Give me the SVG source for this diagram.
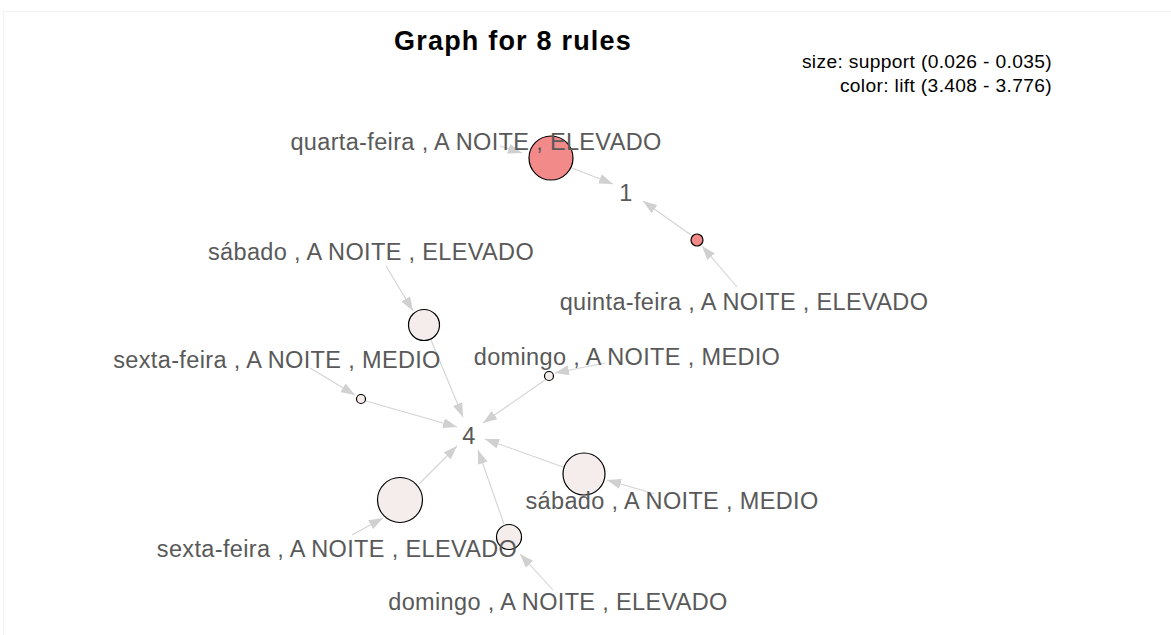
<svg xmlns="http://www.w3.org/2000/svg" width="1171" height="635" viewBox="0 0 1171 635">
<style>
.bg{fill:#ffffff}
.frame{fill:none;stroke:#f2f2f2;stroke-width:1}
.title{font-family:"Liberation Sans",Arial,sans-serif;font-weight:bold;font-size:27px;letter-spacing:1.2px;fill:#000;text-anchor:middle}
.legend{font-family:"Liberation Sans",Arial,sans-serif;font-size:19.2px;letter-spacing:0.35px;fill:#000;text-anchor:end}
.lbl{font-family:"Liberation Sans",Arial,sans-serif;font-size:23.5px;letter-spacing:0.35px;fill:#595959;text-anchor:middle}
.edge{stroke:#d3d3d3;stroke-width:1.1;fill:none;marker-end:url(#arr)}
.rule-hi{fill:#f38a8a;stroke:#000;stroke-width:1.2}
.rule-lo{fill:#f4edeb;stroke:#000;stroke-width:1.2}
</style>
<defs>
<marker id="arr" markerUnits="userSpaceOnUse" markerWidth="14" markerHeight="10" refX="14" refY="5" orient="auto">
<path d="M0,0 L14,5 L0,10 Z" fill="#d0d0d0"/>
</marker>
</defs>
<rect class="bg" x="0" y="0" width="1171" height="635"/>
<rect class="frame" x="3.5" y="11.5" width="1172" height="640"/>
<text class="title" x="513" y="50">Graph for 8 rules</text>
<text class="legend" x="1052" y="68">size: support (0.026 - 0.035)</text>
<text class="legend" x="1052" y="92">color: lift (3.408 - 3.776)</text>
<g id="connectors">
<line class="edge" x1="500" y1="146" x2="522" y2="153"/>
<line class="edge" x1="572" y1="168" x2="613" y2="184"/>
<line class="edge" x1="737" y1="287" x2="702" y2="246"/>
<line class="edge" x1="691" y1="235" x2="643" y2="201"/>
<line class="edge" x1="386" y1="266" x2="413" y2="311"/>
<line class="edge" x1="431" y1="340" x2="463" y2="417"/>
<line class="edge" x1="310" y1="368" x2="355" y2="395"/>
<line class="edge" x1="366" y1="401" x2="457" y2="427"/>
<line class="edge" x1="605" y1="363" x2="555" y2="373"/>
<line class="edge" x1="545" y1="380" x2="483" y2="423"/>
<line class="edge" x1="655" y1="494" x2="607" y2="480"/>
<line class="edge" x1="563" y1="467" x2="485" y2="439"/>
<line class="edge" x1="352" y1="535" x2="383" y2="518"/>
<line class="edge" x1="419" y1="484" x2="457" y2="446"/>
<line class="edge" x1="553" y1="590" x2="520" y2="554"/>
<line class="edge" x1="504" y1="524" x2="478" y2="450"/>
</g>
<g id="rule-quarta"><circle class="rule-hi" cx="551" cy="158" r="22"/></g>
<g id="rule-quinta"><circle class="rule-hi" cx="697" cy="240" r="6"/></g>
<g id="rule-sabado-elevado"><circle class="rule-lo" cx="424" cy="325" r="15.5"/></g>
<g id="rule-domingo-medio"><circle class="rule-lo" cx="549" cy="376" r="4.5"/></g>
<g id="rule-sexta-medio"><circle class="rule-lo" cx="361" cy="399" r="4.5"/></g>
<g id="rule-sabado-medio"><circle class="rule-lo" cx="584" cy="474" r="21"/></g>
<g id="rule-sexta-elevado"><circle class="rule-lo" cx="400" cy="500" r="22.5"/></g>
<g id="rule-domingo-elevado"><circle class="rule-lo" cx="509" cy="537" r="12.5"/></g>
<g id="item-quarta"><text class="lbl" x="476" y="150">quarta-feira , A NOITE , ELEVADO</text></g>
<g id="item-1"><text class="lbl" x="626" y="201">1</text></g>
<g id="item-quinta"><text class="lbl" x="744" y="310">quinta-feira , A NOITE , ELEVADO</text></g>
<g id="item-sabado-elevado"><text class="lbl" x="371" y="260">sábado , A NOITE , ELEVADO</text></g>
<g id="item-sexta-medio"><text class="lbl" x="277" y="368">sexta-feira , A NOITE , MEDIO</text></g>
<g id="item-domingo-medio"><text class="lbl" x="627" y="365">domingo , A NOITE , MEDIO</text></g>
<g id="item-4"><text class="lbl" x="469" y="444">4</text></g>
<g id="item-sabado-medio"><text class="lbl" x="672" y="509">sábado , A NOITE , MEDIO</text></g>
<g id="item-sexta-elevado"><text class="lbl" x="337" y="557">sexta-feira , A NOITE , ELEVADO</text></g>
<g id="item-domingo-elevado"><text class="lbl" x="558" y="610">domingo , A NOITE , ELEVADO</text></g>
</svg>
